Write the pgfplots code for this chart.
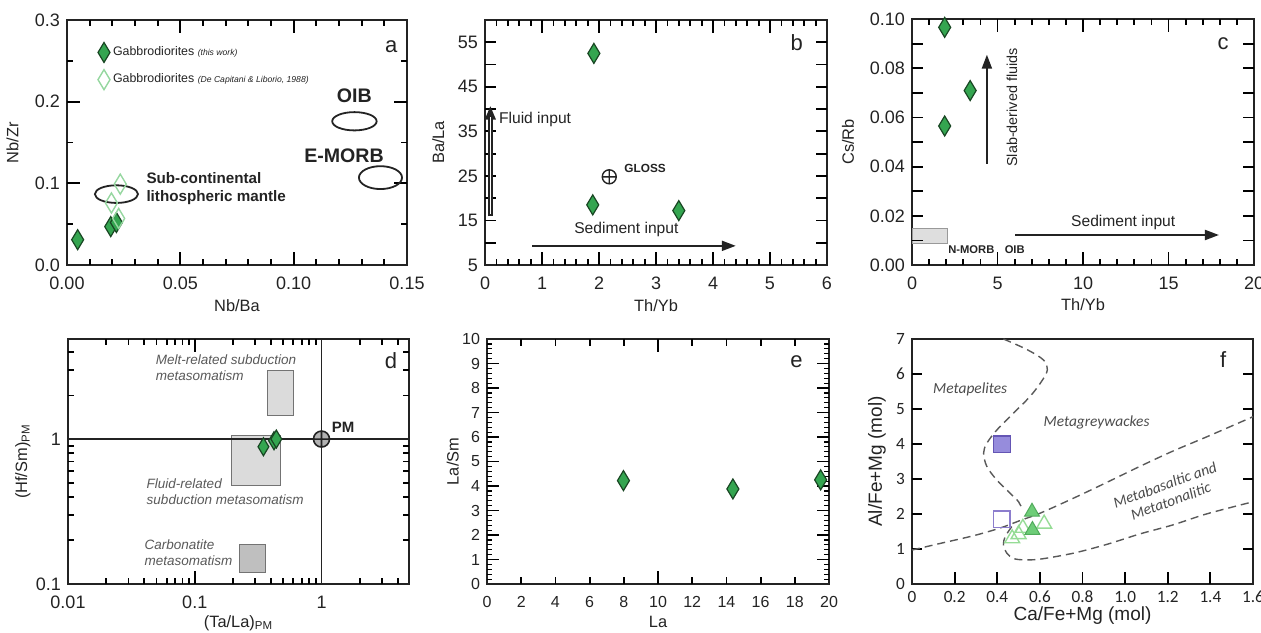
\documentclass[border=0pt]{standalone}
\usepackage{fontspec}
\setmainfont{Liberation Sans}
\newfontfamily\calfont{Carlito}
\usepackage{pgfplots}
\pgfplotsset{compat=1.18}
\usetikzlibrary{arrows.meta}

\definecolor{dg}{RGB}{52,165,80}
\definecolor{dgb}{RGB}{25,70,35}
\definecolor{lgd}{RGB}{150,215,160}
\definecolor{tri}{RGB}{110,205,120}
\definecolor{trib}{RGB}{80,170,90}
\definecolor{otri}{RGB}{150,220,150}
\definecolor{sq}{RGB}{150,140,220}
\definecolor{sqb}{RGB}{100,85,180}
\definecolor{osq}{RGB}{140,125,205}
\definecolor{tx}{RGB}{35,35,35}

\tikzset{
  plab/.style={font=\fontsize{11}{12}\selectfont, text=tx},
  arr/.style={-{Triangle[length=7pt,width=5pt]}, line width=1pt, tx},
}
\pgfplotsset{
  tkp/.style={line width=0.9pt, color=black, mark=none, forget plot, unbounded coords=jump},
  base/.style={
    scale only axis, anchor=north west, clip=false,
    tick align=inside, major tick length=0pt, minor tick length=0pt,
    axis line style={line width=0.8pt, tx},
    /pgf/number format/assume math mode=true,
    tick label style={font=\fontsize{9}{10}\selectfont, text=tx},
    xticklabel style={yshift=-2.5pt},
  },
  gd/.style={only marks, mark=diamond*, mark size=5pt,
    mark options={xscale=0.8, fill=dg, draw=dgb, line width=0.6pt}},
  od/.style={only marks, mark=diamond, mark size=5pt,
    mark options={xscale=0.8, draw=lgd, line width=0.7pt}},
}
\newcommand{\lf}{\fontsize{8.2}{9}\selectfont}

\begin{document}
\begin{tikzpicture}

% ---------------- a ----------------
\begin{axis}[base, at={(33.5pt,-10pt)}, width=170pt, height=122.5pt,
  xmin=0, xmax=0.15, ymin=0, ymax=0.3,
  xtick={0,0.05,0.1,0.15}, xticklabels={0.00,0.05,0.10,0.15},
  ytick={0,0.1,0.2,0.3}, yticklabels={0.0,0.1,0.2,0.3},
  xlabel={Nb/Ba}, ylabel={Nb/Zr},
  xlabel style={at={(axis description cs:0.5,-0.165)}, anchor=center, font=\lf, text=tx},
  ylabel style={at={(axis description cs:-0.16,0.5)}, anchor=center, font=\lf, text=tx},
  legend style={draw=none, fill=none, at={(axis description cs:0.09,0.91)}, anchor=north west,
    font=\fontsize{6.2}{7}\selectfont, text=tx, row sep=3.6pt, inner sep=0pt,
    nodes={inner sep=1.5pt}},
  legend cell align=left,
  legend image code/.code={\draw[#1] plot coordinates {(0.12cm,0cm)};},
]
\addplot[gd] coordinates {(0.0047,0.031) (0.0193,0.047) (0.0218,0.052)};
\addlegendentry{Gabbrodiorites {\fontsize{4.3}{5}\selectfont\itshape (this work)}}
\addplot[od] coordinates {(0.0196,0.076) (0.0235,0.099) (0.0228,0.057)};
\addlegendentry{Gabbrodiorites {\fontsize{4.3}{5}\selectfont\itshape (De Capitani \& Liborio, 1988)}}
\addplot[tkp] coordinates {
(0.05,0)(0.05,0.0159)(nan,nan)(0.1,0)(0.1,0.0159)(nan,nan)
(0.05,0.3)(0.05,0.2841)(nan,nan)(0.1,0.3)(0.1,0.2841)(nan,nan)
(0,0.1)(0.00574,0.1)(nan,nan)(0,0.2)(0.00574,0.2)(nan,nan)
(0.15,0.1)(0.14426,0.1)(nan,nan)(0.15,0.2)(0.14426,0.2)};
\addplot[tkp] coordinates {
(0.01,0)(0.01,0.0078)(nan,nan)(0.02,0)(0.02,0.0078)(nan,nan)(0.03,0)(0.03,0.0078)(nan,nan)(0.04,0)(0.04,0.0078)(nan,nan)
(0.06,0)(0.06,0.0078)(nan,nan)(0.07,0)(0.07,0.0078)(nan,nan)(0.08,0)(0.08,0.0078)(nan,nan)(0.09,0)(0.09,0.0078)(nan,nan)
(0.11,0)(0.11,0.0078)(nan,nan)(0.12,0)(0.12,0.0078)(nan,nan)(0.13,0)(0.13,0.0078)(nan,nan)(0.14,0)(0.14,0.0078)(nan,nan)
(0.01,0.3)(0.01,0.2922)(nan,nan)(0.02,0.3)(0.02,0.2922)(nan,nan)(0.03,0.3)(0.03,0.2922)(nan,nan)(0.04,0.3)(0.04,0.2922)(nan,nan)
(0.06,0.3)(0.06,0.2922)(nan,nan)(0.07,0.3)(0.07,0.2922)(nan,nan)(0.08,0.3)(0.08,0.2922)(nan,nan)(0.09,0.3)(0.09,0.2922)(nan,nan)
(0.11,0.3)(0.11,0.2922)(nan,nan)(0.12,0.3)(0.12,0.2922)(nan,nan)(0.13,0.3)(0.13,0.2922)(nan,nan)(0.14,0.3)(0.14,0.2922)(nan,nan)
(0,0.05)(0.00282,0.05)(nan,nan)(0,0.15)(0.00282,0.15)(nan,nan)(0,0.25)(0.00282,0.25)(nan,nan)
(0.15,0.05)(0.14718,0.05)(nan,nan)(0.15,0.15)(0.14718,0.15)(nan,nan)(0.15,0.25)(0.14718,0.25)};
\draw[line width=0.9pt, tx] (axis cs:0.0218,0.0868) ellipse [x radius=0.0095, y radius=0.0108];
\draw[line width=0.9pt, tx] (axis cs:0.1268,0.176) ellipse [x radius=0.0098, y radius=0.0112];
\draw[line width=0.9pt, tx] (axis cs:0.1383,0.107) ellipse [x radius=0.0095, y radius=0.0140];
\node[font=\bfseries\fontsize{9.8}{10}\selectfont, text=tx] at (axis cs:0.1268,0.207) {OIB};
\node[font=\bfseries\fontsize{9.8}{10}\selectfont, text=tx] at (axis cs:0.1222,0.134) {E-MORB};
\node[font=\bfseries\fontsize{7.6}{9}\selectfont, text=tx, align=left, anchor=west, inner sep=0pt]
  at (axis cs:0.0349,0.094) {Sub-continental\\lithospheric mantle};
\node[plab] at (axis cs:0.1430,0.267) {a};
\end{axis}

% ---------------- b ----------------
\begin{axis}[base, at={(242.5pt,-10pt)}, width=171pt, height=122.5pt,
  xmin=0, xmax=6, ymin=5, ymax=60,
  xtick={0,...,6},
  ytick={5,15,...,55},
  xlabel={Th/Yb}, ylabel={Ba/La},
  xlabel style={at={(axis description cs:0.5,-0.165)}, anchor=center, font=\lf, text=tx},
  ylabel style={at={(axis description cs:-0.137,0.5)}, anchor=center, font=\lf, text=tx},
]
\addplot[tkp] coordinates {
(1,5)(1,7.92)(nan,nan)(2,5)(2,7.92)(nan,nan)(3,5)(3,7.92)(nan,nan)(4,5)(4,7.92)(nan,nan)(5,5)(5,7.92)(nan,nan)
(1,60)(1,57.08)(nan,nan)(2,60)(2,57.08)(nan,nan)(3,60)(3,57.08)(nan,nan)(4,60)(4,57.08)(nan,nan)(5,60)(5,57.08)(nan,nan)
(0,10)(0.193,10)(nan,nan)(0,15)(0.193,15)(nan,nan)(0,20)(0.193,20)(nan,nan)(0,25)(0.193,25)(nan,nan)(0,30)(0.193,30)(nan,nan)
(0,35)(0.193,35)(nan,nan)(0,40)(0.193,40)(nan,nan)(0,45)(0.193,45)(nan,nan)(0,50)(0.193,50)(nan,nan)(0,55)(0.193,55)(nan,nan)
(6,10)(5.807,10)(nan,nan)(6,15)(5.807,15)(nan,nan)(6,20)(5.807,20)(nan,nan)(6,25)(5.807,25)(nan,nan)(6,30)(5.807,30)(nan,nan)
(6,35)(5.807,35)(nan,nan)(6,40)(5.807,40)(nan,nan)(6,45)(5.807,45)(nan,nan)(6,50)(5.807,50)(nan,nan)(6,55)(5.807,55)};
\addplot[tkp] coordinates {
(0.2,5)(0.2,6.44)(nan,nan)(0.4,5)(0.4,6.44)(nan,nan)(0.6,5)(0.6,6.44)(nan,nan)(0.8,5)(0.8,6.44)(nan,nan)
(1.2,5)(1.2,6.44)(nan,nan)(1.4,5)(1.4,6.44)(nan,nan)(1.6,5)(1.6,6.44)(nan,nan)(1.8,5)(1.8,6.44)(nan,nan)
(2.2,5)(2.2,6.44)(nan,nan)(2.4,5)(2.4,6.44)(nan,nan)(2.6,5)(2.6,6.44)(nan,nan)(2.8,5)(2.8,6.44)(nan,nan)
(3.2,5)(3.2,6.44)(nan,nan)(3.4,5)(3.4,6.44)(nan,nan)(3.6,5)(3.6,6.44)(nan,nan)(3.8,5)(3.8,6.44)(nan,nan)
(4.2,5)(4.2,6.44)(nan,nan)(4.4,5)(4.4,6.44)(nan,nan)(4.6,5)(4.6,6.44)(nan,nan)(4.8,5)(4.8,6.44)(nan,nan)
(5.2,5)(5.2,6.44)(nan,nan)(5.4,5)(5.4,6.44)(nan,nan)(5.6,5)(5.6,6.44)(nan,nan)(5.8,5)(5.8,6.44)(nan,nan)
(0.2,60)(0.2,58.56)(nan,nan)(0.4,60)(0.4,58.56)(nan,nan)(0.6,60)(0.6,58.56)(nan,nan)(0.8,60)(0.8,58.56)(nan,nan)
(1.2,60)(1.2,58.56)(nan,nan)(1.4,60)(1.4,58.56)(nan,nan)(1.6,60)(1.6,58.56)(nan,nan)(1.8,60)(1.8,58.56)(nan,nan)
(2.2,60)(2.2,58.56)(nan,nan)(2.4,60)(2.4,58.56)(nan,nan)(2.6,60)(2.6,58.56)(nan,nan)(2.8,60)(2.8,58.56)(nan,nan)
(3.2,60)(3.2,58.56)(nan,nan)(3.4,60)(3.4,58.56)(nan,nan)(3.6,60)(3.6,58.56)(nan,nan)(3.8,60)(3.8,58.56)(nan,nan)
(4.2,60)(4.2,58.56)(nan,nan)(4.4,60)(4.4,58.56)(nan,nan)(4.6,60)(4.6,58.56)(nan,nan)(4.8,60)(4.8,58.56)(nan,nan)
(5.2,60)(5.2,58.56)(nan,nan)(5.4,60)(5.4,58.56)(nan,nan)(5.6,60)(5.6,58.56)(nan,nan)(5.8,60)(5.8,58.56)};
\addplot[gd] coordinates {(1.91,52.5) (1.89,18.5) (3.40,17.2)};
\addplot[only marks, mark=oplus, mark size=3.5pt, mark options={draw=tx, line width=0.7pt}] coordinates {(2.18,24.8)};
\node[font=\bfseries\fontsize{5.9}{6}\selectfont, text=tx, anchor=west, inner sep=0pt] at (axis cs:2.44,26.6) {GLOSS};
\draw[arr, line width=2.2pt] (axis cs:0.094,15.9) -- (axis cs:0.094,40.8);
\draw[white, line width=0.8pt] (axis cs:0.094,16.4) -- (axis cs:0.094,38.2);
\node[font=\fontsize{7.8}{9}\selectfont, text=tx, anchor=west, inner sep=0pt] at (axis cs:0.24,37.6) {Fluid input};
\draw[arr] (axis cs:0.83,9.3) -- (axis cs:4.40,9.3);
\node[font=\fontsize{7.8}{9}\selectfont, text=tx] at (axis cs:2.48,12.9) {Sediment input};
\node[plab] at (axis cs:5.47,55) {b};
\end{axis}

% ---------------- c ----------------
\begin{axis}[base, at={(456pt,-9.5pt)}, width=171pt, height=123pt,
  xmin=0, xmax=20, ymin=0, ymax=0.1,
  xtick={0,5,...,20},
  ytick={0,0.02,0.04,0.06,0.08,0.1},
  yticklabels={0.00,0.02,0.04,0.06,0.08,0.10},
  xlabel={Th/Yb}, ylabel={Cs/Rb},
  xlabel style={at={(axis description cs:0.5,-0.16)}, anchor=center, font=\lf, text=tx},
  ylabel style={at={(axis description cs:-0.187,0.5)}, anchor=center, font=\lf, text=tx},
]
\addplot[fill=black!13, draw=black!40, line width=0.5pt] coordinates {(0,0.0088) (2.08,0.0088) (2.08,0.0149) (0,0.0149)} -- cycle;
\addplot[tkp] coordinates {
(5,0)(5,0.00528)(nan,nan)(10,0)(10,0.00528)(nan,nan)(15,0)(15,0.00528)(nan,nan)
(5,0.1)(5,0.09472)(nan,nan)(10,0.1)(10,0.09472)(nan,nan)(15,0.1)(15,0.09472)(nan,nan)
(1,0)(1,0.0026)(nan,nan)(2,0)(2,0.0026)(nan,nan)(3,0)(3,0.0026)(nan,nan)(4,0)(4,0.0026)(nan,nan)
(6,0)(6,0.0026)(nan,nan)(7,0)(7,0.0026)(nan,nan)(8,0)(8,0.0026)(nan,nan)(9,0)(9,0.0026)(nan,nan)
(11,0)(11,0.0026)(nan,nan)(12,0)(12,0.0026)(nan,nan)(13,0)(13,0.0026)(nan,nan)(14,0)(14,0.0026)(nan,nan)
(16,0)(16,0.0026)(nan,nan)(17,0)(17,0.0026)(nan,nan)(18,0)(18,0.0026)(nan,nan)(19,0)(19,0.0026)(nan,nan)
(1,0.1)(1,0.0974)(nan,nan)(2,0.1)(2,0.0974)(nan,nan)(3,0.1)(3,0.0974)(nan,nan)(4,0.1)(4,0.0974)(nan,nan)
(6,0.1)(6,0.0974)(nan,nan)(7,0.1)(7,0.0974)(nan,nan)(8,0.1)(8,0.0974)(nan,nan)(9,0.1)(9,0.0974)(nan,nan)
(11,0.1)(11,0.0974)(nan,nan)(12,0.1)(12,0.0974)(nan,nan)(13,0.1)(13,0.0974)(nan,nan)(14,0.1)(14,0.0974)(nan,nan)
(16,0.1)(16,0.0974)(nan,nan)(17,0.1)(17,0.0974)(nan,nan)(18,0.1)(18,0.0974)(nan,nan)(19,0.1)(19,0.0974)(nan,nan)
(0,0.01)(0.643,0.01)(nan,nan)(0,0.02)(0.643,0.02)(nan,nan)(0,0.03)(0.643,0.03)(nan,nan)(0,0.04)(0.643,0.04)(nan,nan)
(0,0.05)(0.643,0.05)(nan,nan)(0,0.06)(0.643,0.06)(nan,nan)(0,0.07)(0.643,0.07)(nan,nan)(0,0.08)(0.643,0.08)(nan,nan)(0,0.09)(0.643,0.09)(nan,nan)
(20,0.01)(19.357,0.01)(nan,nan)(20,0.02)(19.357,0.02)(nan,nan)(20,0.03)(19.357,0.03)(nan,nan)(20,0.04)(19.357,0.04)(nan,nan)
(20,0.05)(19.357,0.05)(nan,nan)(20,0.06)(19.357,0.06)(nan,nan)(20,0.07)(19.357,0.07)(nan,nan)(20,0.08)(19.357,0.08)(nan,nan)(20,0.09)(19.357,0.09)};
\addplot[gd] coordinates {(1.91,0.0966) (1.91,0.0565) (3.40,0.0709)};
\node[font=\bfseries\fontsize{5.6}{6}\selectfont, text=tx, anchor=west, inner sep=0pt] at (axis cs:2.1,0.0062) {N-MORB};
\node[font=\bfseries\fontsize{5.6}{6}\selectfont, text=tx, anchor=west, inner sep=0pt] at (axis cs:5.4,0.0062) {OIB};
\draw[arr] (axis cs:4.38,0.0412) -- (axis cs:4.38,0.0855);
\node[font=\fontsize{7.2}{9}\selectfont, text=tx, rotate=90] at (axis cs:5.85,0.064) {Slab-derived fluids};
\draw[arr] (axis cs:6.03,0.0122) -- (axis cs:17.95,0.0122);
\node[font=\fontsize{7.8}{9}\selectfont, text=tx] at (axis cs:12.35,0.0172) {Sediment input};
\node[plab] at (axis cs:18.2,0.0899) {c};
\end{axis}

% ---------------- d ----------------
\begin{axis}[base, at={(34pt,-169.5pt)}, width=170.5pt, height=122.5pt,
  xmode=log, ymode=log,
  xmin=0.01, xmax=4.9, ymin=0.1, ymax=4.9,
  xtick={0.01,0.1,1}, xticklabels={0.01,0.1,1},
  ytick={0.1,1}, yticklabels={0.1,1},
  xlabel={(Ta/La)\textsubscript{PM}}, ylabel={(Hf/Sm)\textsubscript{PM}},
  xlabel style={at={(axis description cs:0.5,-0.16)}, anchor=center, font=\lf, text=tx},
  ylabel style={at={(axis description cs:-0.132,0.5)}, anchor=center, font=\lf, text=tx},
]
\addplot[fill=black!14, draw=black!55, line width=0.6pt] coordinates {(0.377,1.46) (0.599,1.46) (0.599,2.96) (0.377,2.96)} -- cycle;
\addplot[fill=black!14, draw=black!55, line width=0.6pt] coordinates {(0.194,0.477) (0.477,0.477) (0.477,1.055) (0.194,1.055)} -- cycle;
\addplot[fill=black!25, draw=black!55, line width=0.6pt] coordinates {(0.224,0.12) (0.359,0.12) (0.359,0.188) (0.224,0.188)} -- cycle;
\addplot[tkp] coordinates {
(0.1,0.1)(0.1,0.1229)(nan,nan)(0.1,4.9)(0.1,3.99)(nan,nan)
(0.02,0.1)(0.02,0.1106)(nan,nan)(0.03,0.1)(0.03,0.1106)(nan,nan)(0.04,0.1)(0.04,0.1106)(nan,nan)(0.05,0.1)(0.05,0.1106)(nan,nan)
(0.06,0.1)(0.06,0.1106)(nan,nan)(0.07,0.1)(0.07,0.1106)(nan,nan)(0.08,0.1)(0.08,0.1106)(nan,nan)(0.09,0.1)(0.09,0.1106)(nan,nan)
(0.2,0.1)(0.2,0.1106)(nan,nan)(0.3,0.1)(0.3,0.1106)(nan,nan)(0.4,0.1)(0.4,0.1106)(nan,nan)(0.5,0.1)(0.5,0.1106)(nan,nan)
(0.6,0.1)(0.6,0.1106)(nan,nan)(0.7,0.1)(0.7,0.1106)(nan,nan)(0.8,0.1)(0.8,0.1106)(nan,nan)(0.9,0.1)(0.9,0.1106)(nan,nan)
(2,0.1)(2,0.1106)(nan,nan)(3,0.1)(3,0.1106)(nan,nan)(4,0.1)(4,0.1106)(nan,nan)
(0.02,4.9)(0.02,4.43)(nan,nan)(0.03,4.9)(0.03,4.43)(nan,nan)(0.04,4.9)(0.04,4.43)(nan,nan)(0.05,4.9)(0.05,4.43)(nan,nan)
(0.06,4.9)(0.06,4.43)(nan,nan)(0.07,4.9)(0.07,4.43)(nan,nan)(0.08,4.9)(0.08,4.43)(nan,nan)(0.09,4.9)(0.09,4.43)(nan,nan)
(0.2,4.9)(0.2,4.43)(nan,nan)(0.3,4.9)(0.3,4.43)(nan,nan)(0.4,4.9)(0.4,4.43)(nan,nan)(0.5,4.9)(0.5,4.43)(nan,nan)
(0.6,4.9)(0.6,4.43)(nan,nan)(0.7,4.9)(0.7,4.43)(nan,nan)(0.8,4.9)(0.8,4.43)(nan,nan)(0.9,4.9)(0.9,4.43)(nan,nan)
(2,4.9)(2,4.43)(nan,nan)(3,4.9)(3,4.43)(nan,nan)(4,4.9)(4,4.43)(nan,nan)
(0.01,0.2)(0.01123,0.2)(nan,nan)(0.01,0.3)(0.01123,0.3)(nan,nan)(0.01,0.4)(0.01123,0.4)(nan,nan)(0.01,0.5)(0.01123,0.5)(nan,nan)
(0.01,0.6)(0.01123,0.6)(nan,nan)(0.01,0.7)(0.01123,0.7)(nan,nan)(0.01,0.8)(0.01123,0.8)(nan,nan)(0.01,0.9)(0.01123,0.9)(nan,nan)
(0.01,2)(0.01123,2)(nan,nan)(0.01,3)(0.01123,3)(nan,nan)(0.01,4)(0.01123,4)(nan,nan)
(4.9,0.2)(4.36,0.2)(nan,nan)(4.9,0.3)(4.36,0.3)(nan,nan)(4.9,0.4)(4.36,0.4)(nan,nan)(4.9,0.5)(4.36,0.5)(nan,nan)
(4.9,0.6)(4.36,0.6)(nan,nan)(4.9,0.7)(4.36,0.7)(nan,nan)(4.9,0.8)(4.36,0.8)(nan,nan)(4.9,0.9)(4.36,0.9)(nan,nan)
(4.9,2)(4.36,2)(nan,nan)(4.9,3)(4.36,3)(nan,nan)(4.9,4)(4.36,4)};
\addplot[line width=0.8pt, tx] coordinates {(0.01,1) (4.9,1)};
\addplot[line width=0.8pt, tx] coordinates {(1,0.1) (1,4.9)};
\addplot[gd, mark size=4.5pt] coordinates {(0.348,0.885) (0.422,0.974) (0.44,1.0)};
\addplot[only marks, mark=oplus*, mark size=4pt, mark options={fill=black!30, draw=tx, line width=0.8pt}] coordinates {(1,1)};
\node[font=\bfseries\fontsize{7.5}{8}\selectfont, text=tx, anchor=west, inner sep=0pt] at (axis cs:1.2,1.2) {PM};
\node[font=\itshape\fontsize{6.75}{8.2}\selectfont, text=black!65, align=left, anchor=west, inner sep=0pt] at (axis cs:0.049,3.1) {Melt-related subduction\\metasomatism};
\node[font=\itshape\fontsize{6.75}{8.2}\selectfont, text=black!65, align=left, anchor=west, inner sep=0pt] at (axis cs:0.0415,0.435) {Fluid-related\\subduction metasomatism};
\node[font=\itshape\fontsize{6.75}{8.2}\selectfont, text=black!65, align=left, anchor=west, inner sep=0pt] at (axis cs:0.04,0.164) {Carbonatite\\metasomatism};
\node[plab] at (axis cs:3.54,3.47) {d};
\end{axis}

% ---------------- e ----------------
\begin{axis}[base, at={(243.5pt,-169.5pt)}, width=171pt, height=122.5pt,
  xmin=0, xmax=20, ymin=0, ymax=10,
  xtick={0,2,...,20},
  ytick={0,...,10},
  tick label style={font=\fontsize{8}{9}\selectfont, text=tx},
  xlabel={La}, ylabel={La/Sm},
  xlabel style={at={(axis description cs:0.5,-0.155)}, anchor=center, font=\lf, text=tx},
  ylabel style={at={(axis description cs:-0.1,0.5)}, anchor=center, font=\lf, text=tx},
]
\addplot[tkp] coordinates {
(2,0)(2,0.286)(nan,nan)(4,0)(4,0.286)(nan,nan)(6,0)(6,0.286)(nan,nan)(8,0)(8,0.286)(nan,nan)(10,0)(10,0.531)(nan,nan)
(12,0)(12,0.286)(nan,nan)(14,0)(14,0.286)(nan,nan)(16,0)(16,0.286)(nan,nan)(18,0)(18,0.286)(nan,nan)
(2,10)(2,9.714)(nan,nan)(4,10)(4,9.714)(nan,nan)(6,10)(6,9.714)(nan,nan)(8,10)(8,9.714)(nan,nan)(10,10)(10,9.469)(nan,nan)
(12,10)(12,9.714)(nan,nan)(14,10)(14,9.714)(nan,nan)(16,10)(16,9.714)(nan,nan)(18,10)(18,9.714)(nan,nan)
(0,1)(0.702,1)(nan,nan)(0,2)(0.702,2)(nan,nan)(0,3)(0.702,3)(nan,nan)(0,4)(0.702,4)(nan,nan)(0,5)(0.702,5)(nan,nan)
(0,6)(0.702,6)(nan,nan)(0,7)(0.702,7)(nan,nan)(0,8)(0.702,8)(nan,nan)(0,9)(0.702,9)(nan,nan)
(20,1)(19.298,1)(nan,nan)(20,2)(19.298,2)(nan,nan)(20,3)(19.298,3)(nan,nan)(20,4)(19.298,4)(nan,nan)(20,5)(19.298,5)(nan,nan)
(20,6)(19.298,6)(nan,nan)(20,7)(19.298,7)(nan,nan)(20,8)(19.298,8)(nan,nan)(20,9)(19.298,9)};
\addplot[tkp, line width=0.6pt] coordinates {
(0,0.2)(0.292,0.2)(nan,nan)(0,0.4)(0.292,0.4)(nan,nan)(0,0.6)(0.292,0.6)(nan,nan)(0,0.8)(0.292,0.8)(nan,nan)
(0,1.2)(0.292,1.2)(nan,nan)(0,1.4)(0.292,1.4)(nan,nan)(0,1.6)(0.292,1.6)(nan,nan)(0,1.8)(0.292,1.8)(nan,nan)
(0,2.2)(0.292,2.2)(nan,nan)(0,2.4)(0.292,2.4)(nan,nan)(0,2.6)(0.292,2.6)(nan,nan)(0,2.8)(0.292,2.8)(nan,nan)
(0,3.2)(0.292,3.2)(nan,nan)(0,3.4)(0.292,3.4)(nan,nan)(0,3.6)(0.292,3.6)(nan,nan)(0,3.8)(0.292,3.8)(nan,nan)
(0,4.2)(0.292,4.2)(nan,nan)(0,4.4)(0.292,4.4)(nan,nan)(0,4.6)(0.292,4.6)(nan,nan)(0,4.8)(0.292,4.8)(nan,nan)
(0,5.2)(0.292,5.2)(nan,nan)(0,5.4)(0.292,5.4)(nan,nan)(0,5.6)(0.292,5.6)(nan,nan)(0,5.8)(0.292,5.8)(nan,nan)
(0,6.2)(0.292,6.2)(nan,nan)(0,6.4)(0.292,6.4)(nan,nan)(0,6.6)(0.292,6.6)(nan,nan)(0,6.8)(0.292,6.8)(nan,nan)
(0,7.2)(0.292,7.2)(nan,nan)(0,7.4)(0.292,7.4)(nan,nan)(0,7.6)(0.292,7.6)(nan,nan)(0,7.8)(0.292,7.8)(nan,nan)
(0,8.2)(0.292,8.2)(nan,nan)(0,8.4)(0.292,8.4)(nan,nan)(0,8.6)(0.292,8.6)(nan,nan)(0,8.8)(0.292,8.8)(nan,nan)
(0,9.2)(0.292,9.2)(nan,nan)(0,9.4)(0.292,9.4)(nan,nan)(0,9.6)(0.292,9.6)(nan,nan)(0,9.8)(0.292,9.8)(nan,nan)
(20,0.2)(19.708,0.2)(nan,nan)(20,0.4)(19.708,0.4)(nan,nan)(20,0.6)(19.708,0.6)(nan,nan)(20,0.8)(19.708,0.8)(nan,nan)
(20,1.2)(19.708,1.2)(nan,nan)(20,1.4)(19.708,1.4)(nan,nan)(20,1.6)(19.708,1.6)(nan,nan)(20,1.8)(19.708,1.8)(nan,nan)
(20,2.2)(19.708,2.2)(nan,nan)(20,2.4)(19.708,2.4)(nan,nan)(20,2.6)(19.708,2.6)(nan,nan)(20,2.8)(19.708,2.8)(nan,nan)
(20,3.2)(19.708,3.2)(nan,nan)(20,3.4)(19.708,3.4)(nan,nan)(20,3.6)(19.708,3.6)(nan,nan)(20,3.8)(19.708,3.8)(nan,nan)
(20,4.2)(19.708,4.2)(nan,nan)(20,4.4)(19.708,4.4)(nan,nan)(20,4.6)(19.708,4.6)(nan,nan)(20,4.8)(19.708,4.8)(nan,nan)
(20,5.2)(19.708,5.2)(nan,nan)(20,5.4)(19.708,5.4)(nan,nan)(20,5.6)(19.708,5.6)(nan,nan)(20,5.8)(19.708,5.8)(nan,nan)
(20,6.2)(19.708,6.2)(nan,nan)(20,6.4)(19.708,6.4)(nan,nan)(20,6.6)(19.708,6.6)(nan,nan)(20,6.8)(19.708,6.8)(nan,nan)
(20,7.2)(19.708,7.2)(nan,nan)(20,7.4)(19.708,7.4)(nan,nan)(20,7.6)(19.708,7.6)(nan,nan)(20,7.8)(19.708,7.8)(nan,nan)
(20,8.2)(19.708,8.2)(nan,nan)(20,8.4)(19.708,8.4)(nan,nan)(20,8.6)(19.708,8.6)(nan,nan)(20,8.8)(19.708,8.8)(nan,nan)
(20,9.2)(19.708,9.2)(nan,nan)(20,9.4)(19.708,9.4)(nan,nan)(20,9.6)(19.708,9.6)(nan,nan)(20,9.8)(19.708,9.8)};
\addplot[gd] coordinates {(7.98,4.22) (14.38,3.88) (19.51,4.25)};
\node[plab] at (axis cs:18.1,9.09) {e};
\end{axis}

% ---------------- f ----------------
\begin{axis}[base, at={(456pt,-169.5pt)}, width=170.5pt, height=122.5pt,
  xmin=0, xmax=1.6, ymin=0, ymax=7,
  xtick={0,0.2,0.4,0.6,0.8,1.0,1.2,1.4,1.6},
  xticklabels={0,0.2,0.4,0.6,0.8,1.0,1.2,1.4,1.6},
  ytick={0,...,7},
  tick label style={font=\calfont\fontsize{8.6}{9}\selectfont, text=tx},
  xticklabel style={yshift=2.5pt},
  xlabel={Ca/Fe+Mg (mol)}, ylabel={Al/Fe+Mg (mol)},
  xlabel style={at={(axis description cs:0.5,-0.127)}, anchor=center, font=\fontsize{9.5}{10}\selectfont, text=tx},
  ylabel style={at={(axis description cs:-0.103,0.5)}, anchor=center, font=\fontsize{9.5}{10}\selectfont, text=tx},
]
\addplot[tkp] coordinates {
(0.2,0)(0.2,0.343)(nan,nan)(0.4,0)(0.4,0.343)(nan,nan)(0.6,0)(0.6,0.343)(nan,nan)(0.8,0)(0.8,0.343)(nan,nan)
(1.0,0)(1.0,0.343)(nan,nan)(1.2,0)(1.2,0.343)(nan,nan)(1.4,0)(1.4,0.343)(nan,nan)
(0,1)(0.0469,1)(nan,nan)(0,2)(0.0469,2)(nan,nan)(0,3)(0.0469,3)(nan,nan)(0,4)(0.0469,4)(nan,nan)(0,5)(0.0469,5)(nan,nan)(0,6)(0.0469,6)(nan,nan)
(1.6,1)(1.5531,1)(nan,nan)(1.6,2)(1.5531,2)(nan,nan)(1.6,3)(1.5531,3)(nan,nan)(1.6,4)(1.5531,4)(nan,nan)(1.6,5)(1.5531,5)(nan,nan)(1.6,6)(1.5531,6)};
\addplot[smooth, tension=0.55, dash pattern=on 4pt off 2.5pt, line width=0.7pt, black!65] coordinates {
  (0.429,7.0) (0.539,6.7) (0.617,6.4) (0.635,6.12) (0.608,5.79) (0.554,5.36) (0.476,4.88)
  (0.398,4.40) (0.351,4.02) (0.336,3.74) (0.351,3.36) (0.398,2.97) (0.461,2.59) (0.50,2.35) (0.515,2.16)};
\addplot[smooth, tension=0.5, dash pattern=on 4pt off 2.5pt, line width=0.7pt, black!65] coordinates {
  (0,0.97) (0.133,1.16) (0.289,1.38) (0.414,1.6) (0.51,1.82) (0.6,2.02) (0.757,2.45)
  (0.913,2.9) (1.069,3.36) (1.225,3.8) (1.381,4.2) (1.6,4.78)};
\addplot[smooth, tension=0.5, dash pattern=on 4pt off 2.5pt, line width=0.7pt, black!65] coordinates {
  (0.468,1.64) (0.437,1.35) (0.429,1.12) (0.445,0.88) (0.476,0.73) (0.523,0.69) (0.601,0.71)
  (0.757,0.88) (0.913,1.13) (1.069,1.43) (1.225,1.69) (1.381,2.0) (1.6,2.35)};
\addplot[only marks, mark=square*, mark size=4.2pt, mark options={fill=sq, draw=sqb, line width=0.6pt}] coordinates {(0.421,3.99)};
\addplot[only marks, mark=square, mark size=4.2pt, mark options={draw=osq, line width=0.7pt}] coordinates {(0.421,1.85)};
\addplot[only marks, mark=triangle, mark size=4.3pt, mark options={draw=otri, line width=0.7pt}] coordinates {(0.47,1.30) (0.50,1.42) (0.52,1.60) (0.62,1.72)};
\addplot[only marks, mark=triangle*, mark size=4.3pt, mark options={fill=tri, draw=trib, line width=0.5pt}] coordinates {(0.563,2.06) (0.565,1.54)};
\node[font=\calfont\itshape\fontsize{7.7}{9}\selectfont, text=black!70] at (axis cs:0.273,5.55) {Metapelites};
\node[font=\calfont\itshape\fontsize{7.7}{9}\selectfont, text=black!70] at (axis cs:0.866,4.61) {Metagreywackes};
\node[font=\calfont\itshape\fontsize{7.7}{8.6}\selectfont, text=black!70, rotate=20, align=center] at (axis cs:1.2,2.6) {Metabasaltic and\\Metatonalitic};
\node[font=\fontsize{11}{12}\selectfont, text=tx] at (axis cs:1.46,6.41) {f};
\end{axis}
\pgfresetboundingbox
\path[use as bounding box] (0,0) rectangle (630.5pt,-316pt);
\end{tikzpicture}
\end{document}
